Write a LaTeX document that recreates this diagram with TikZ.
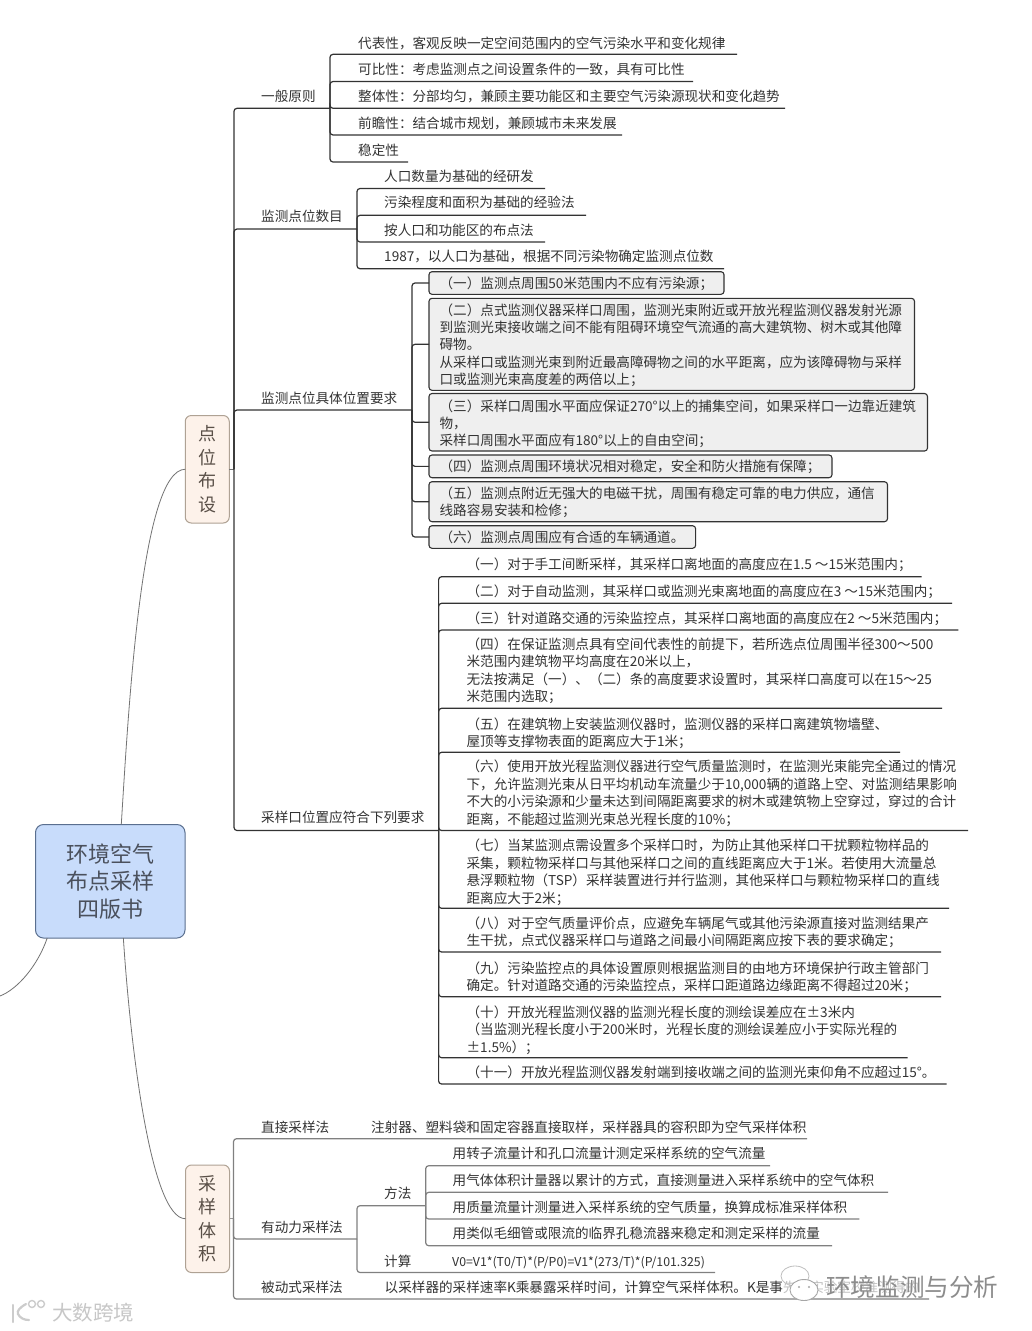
\documentclass[tikz,border=0pt]{standalone}
\usepackage{fontspec}
\setmainfont{Noto Sans CJK SC}
\definecolor{ink}{HTML}{333333}
\definecolor{rootfill}{HTML}{C8DCFB}
\definecolor{rootline}{HTML}{5A6F8F}
\definecolor{rootink}{HTML}{4A505C}
\definecolor{secfill}{HTML}{FDF2EA}
\definecolor{secline}{HTML}{AFA294}
\definecolor{secink}{HTML}{5A5048}
\definecolor{boxfill}{HTML}{EFEFEF}
\tikzset{
  txt/.style={anchor=base west,inner sep=0pt,text=ink,font=\fontsize{13.6}{17.4}\selectfont},
  lnk/.style={draw=#1,line width=1.2pt,rounded corners=3pt},
  lnk/.default={black!80},
  branch/.style={draw=black!55!white,line width=.8pt},
  rootnode/.style={draw=rootline,fill=rootfill,line width=1pt,rounded corners=8pt,
    text=rootink,align=center,inner sep=0pt,outer sep=0pt,
    minimum width=149.5pt,minimum height=113.5pt,font=\fontsize{22}{27.5}\selectfont},
  secnode/.style={draw=secline,fill=secfill,line width=1pt,rounded corners=6pt,
    text=secink,align=center,inner sep=0pt,outer sep=0pt,
    minimum width=44pt,minimum height=107.5pt,font=\fontsize{18}{23.4}\selectfont},
  gboxs/.style={draw=black!80,fill=boxfill,line width=1.1pt,rounded corners=3pt,
    anchor=north west,inner xsep=10.6pt,inner ysep=0pt,outer sep=0pt,text=ink,
    font=\fontsize{13.6}{17.4}\selectfont},
  wmtext/.style={anchor=base west,inner sep=0pt},
}
% parent, name, x, y centre, line end x, line y, text
\newcommand{\tp}[7]{%
  \node[txt] (#2) at (#3,#4+5.17) {#7};
  \coordinate (#2e) at (#5,#6);
  \draw[lnk] (#1) |- (#2e);}
\newcommand{\tpg}[7]{%
  \node[txt] (#2) at (#3,#4+5.17) {#7};
  \coordinate (#2e) at (#5,#6);
  \draw[lnk=black!50] (#1) |- (#2e);}
\newcommand{\ml}[1]{\begin{tabular}[t]{@{}l@{}}#1\end{tabular}}
% name,x0,y0,x1,y1,first line centre,text
\newcommand{\mybox}[7]{%
  \pgfmathsetlengthmacro\bw{#4-#2-21.2}%
  \pgfmathsetlengthmacro\bh{#6+5.17-#3}%
  \pgfmathsetlengthmacro\bd{#5-#6-5.17}%
  \node[gboxs,text height=\bh,text depth=\bd] (#1) at (#2,#3) {\makebox[\bw][l]{#7}};
  \draw[lnk] (b3) |- (#1.west);}
\begin{document}
\begin{tikzpicture}[x=1pt,y=-1pt]
\useasboundingbox (0,0) rectangle (1032,1331);
\fill[white] (0,0) rectangle (1032,1331);
% hub nodes
\node[rootnode] (main) at (110.25,881.25) {环境空气\\布点采样\\四版书};
\node[secnode] (sec1) at (207.25,469.25) {点\\位\\布\\设};
\node[secnode] (sec2) at (207.5,1218.75) {采\\样\\体\\积};
% curved branches
\coordinate (leftend) at (0,996);
\draw[branch] (main.79.3) .. controls (129,700) and (142,469.25) .. (sec1.west);
\draw[branch] (main.-77.3) .. controls (130,1040) and (150,1218.75) .. (sec2.west);
\draw[branch] (main.-138.3) .. controls (38,965) and (18,989) .. (leftend);
% trunks
\coordinate (p1) at (234,469.25);
\coordinate (p2) at (233.5,1218.75);
\draw[line width=1pt,draw=black!55!white] (sec1.east) -- (p1);
\draw[line width=1pt,draw=black!40!white] (sec2.east) -- (p2);
\coordinate (b1) at (330,108.3);
\coordinate (b2) at (357,229);
\coordinate (b3) at (412,410);
\coordinate (b4) at (438.6,830.5);
\coordinate (b5) at (357,1239);
\coordinate (b6) at (425.7,1205.7);
% section 1, level 2
\node[txt] (n1) at (261,96+5.17) {一般原则};
\draw[lnk] (p1) |- (b1);
\node[txt] (n2) at (261,216+5.17) {监测点位数目};
\draw[lnk] (p1) |- (b2);
\node[txt] (n3) at (261,398+5.17) {监测点位具体位置要求};
\draw[lnk] (p1) |- (b3);
\node[txt] (n4) at (261,817+5.17) {采样口位置应符合下列要求};
\draw[lnk] (p1) |- (b4);
% general principles
\tp{b1}{a1}{358}{43}{737}{54.3}{代表性，客观反映一定空间范围内的空气污染水平和变化规律}
\tp{b1}{a2}{358}{69}{693}{81.5}{可比性：考虑监测点之间设置条件的一致，具有可比性}
\tp{b1}{a3}{358}{96}{785}{108.3}{整体性：分部均匀，兼顾主要功能区和主要空气污染源现状和变化趋势}
\tp{b1}{a4}{358}{123}{622}{135}{前瞻性：结合城市规划，兼顾城市未来发展}
\tp{b1}{a5}{358}{150}{408}{162}{稳定性}
% number of points
\tp{b2}{c1}{384}{176}{545}{188.5}{人口数量为基础的经研发}
\tp{b2}{c2}{384}{202.5}{586}{215.3}{污染程度和面积为基础的经验法}
\tp{b2}{c3}{384}{230}{545}{242}{按人口和功能区的布点法}
\tp{b2}{c4}{384}{256.5}{724}{268.7}{1987，以人口为基础，根据不同污染物确定监测点位数}
% position boxes
\mybox{d1}{429}{271.7}{724}{294.3}{283.3}{（一）监测点周围50米范围内不应有污染源；}
\mybox{d2}{429}{298.3}{914.5}{390.3}{310}{\ml{（二）点式监测仪器采样口周围，监测光束附近或开放光程监测仪器发射光源\\到监测光束接收端之间不能有阻碍环境空气流通的高大建筑物、树木或其他障\\碍物。\\从采样口或监测光束到附近最高障碍物之间的水平距离，应为该障碍物与采样\\口或监测光束高度差的两倍以上；}}
\mybox{d3}{429}{393.5}{927.5}{451}{406}{\ml{（三）采样口周围水平面应保证270°以上的捕集空间，如果采样口一边靠近建筑\\物，\\采样口周围水平面应有180°以上的自由空间；}}
\mybox{d4}{429}{455}{832}{477.7}{466.5}{（四）监测点周围环境状况相对稳定，安全和防火措施有保障；}
\mybox{d5}{429}{481.7}{887.5}{521.7}{493.3}{\ml{（五）监测点附近无强大的电磁干扰，周围有稳定可靠的电力供应，通信\\线路容易安装和检修；}}
\mybox{d6}{429}{525.7}{695.6}{548.3}{537}{（六）监测点周围应有合适的车辆通道。}
% inlet requirements
\tp{b4}{e1}{466.4}{564.3}{921.6}{576.7}{（一）对于手工间断采样，其采样口离地面的高度应在1.5 ～15米范围内；}
\tp{b4}{e2}{466.4}{591.7}{952}{603.3}{（二）对于自动监测，其采样口或监测光束离地面的高度应在3 ～15米范围内；}
\tp{b4}{e3}{466.4}{618.3}{958.4}{630}{（三）针对道路交通的污染监控点，其采样口离地面的高度应在2 ～5米范围内；}
\tp{b4}{e4}{466.4}{644.3}{942}{708.3}{\ml{（四）在保证监测点具有空间代表性的前提下，若所选点位周围半径300～500\\米范围内建筑物平均高度在20米以上，\\无法按满足（一）、（二）条的高度要求设置时，其采样口高度可以在15～25\\米范围内选取；}}
\tp{b4}{e5}{466.4}{724}{900}{752.3}{\ml{（五）在建筑物上安装监测仪器时，监测仪器的采样口离建筑物墙壁、\\屋顶等支撑物表面的距离应大于1米；}}
\tp{b4}{e6}{466.4}{766.7}{968}{830.5}{\ml{（六）使用开放光程监测仪器进行空气质量监测时，在监测光束能完全通过的情况\\下，允许监测光束从日平均机动车流量少于10,000辆的道路上空、对监测结果影响\\不大的小污染源和少量未达到间隔距离要求的树木或建筑物上空穿过，穿过的合计\\距离，不能超过监测光束总光程长度的10\%；}}
\tp{b4}{e7}{466.4}{845.7}{949}{908.3}{\ml{（七）当某监测点需设置多个采样口时，为防止其他采样口干扰颗粒物样品的\\采集，颗粒物采样口与其他采样口之间的直线距离应大于1米。若使用大流量总\\悬浮颗粒物（TSP）采样装置进行并行监测，其他采样口与颗粒物采样口的直线\\距离应大于2米；}}
\tp{b4}{e8}{466.4}{923.3}{941}{952}{\ml{（八）对于空气质量评价点，应避免车辆尾气或其他污染源直接对监测结果产\\生干扰，点式仪器采样口与道路之间最小间隔距离应按下表的要求确定；}}
\tp{b4}{e9}{466.4}{968.3}{941}{996.7}{\ml{（九）污染监控点的具体设置原则根据监测目的由地方环境保护行政主管部门\\确定。针对道路交通的污染监控点，采样口距道路边缘距离不得超过20米；}}
\tp{b4}{e10}{466.4}{1012.3}{907.7}{1057.7}{\ml{（十）开放光程监测仪器的监测光程长度的测绘误差应在±3米内\\（当监测光程长度小于200米时，光程长度的测绘误差应小于实际光程的\\±1.5\%）；}}
\tp{b4}{e11}{466.4}{1072.3}{946.6}{1084}{（十一）开放光程监测仪器发射端到接收端之间的监测光束仰角不应超过15°。}
% sampling volume
\node[txt] (f1) at (261,1127+5.17) {直接采样法};
\tpg{p2}{f1a}{371}{1127}{807}{1138.7}{注射器、塑料袋和固定容器直接取样，采样器具的容积即为空气采样体积}
\node[txt] (f2) at (261,1227+5.17) {有动力采样法};
\draw[lnk=black!50] (p2) |- (b5);
\node[txt] (g1) at (384,1193+5.17) {方法};
\draw[lnk=black!50] (b5) |- (b6);
\tpg{b6}{h1}{452.5}{1153}{770}{1165.7}{用转子流量计和孔口流量计测定采样系统的空气流量}
\tpg{b6}{h2}{452.5}{1180}{888}{1192.3}{用气体体积计量器以累计的方式，直接测量进入采样系统中的空气体积}
\tpg{b6}{h3}{452.5}{1207}{859.3}{1219}{用质量流量计测量进入采样系统的空气质量，换算成标准采样体积}
\tpg{b6}{h4}{452.5}{1233}{832}{1245.7}{用类似毛细管或限流的临界孔稳流器来稳定和测定采样的流量}
\node[txt] (g2) at (384,1261+5.17) {计算};
\tpg{b5}{g2a}{452}{1261}{715}{1272.5}{\fontsize{12.3}{17.4}\selectfont V0=V1*(T0/T)*(P/P0)=V1*(273/T)*(P/101.325)}
\node[txt] (f3) at (261,1287+5.17) {被动式采样法};
\tpg{p2}{f3a}{384.5}{1287}{929}{1299}{以采样器的采样速率K乘暴露采样时间，计算空气采样体积。K是事\textcolor{black!45}{先在实验室校准测得的}}
% watermarks
\fill[white,opacity=.45] (784,1277) rectangle (930,1297);
\draw[black!25,line width=.8pt] (795,1276) ellipse [x radius=14,y radius=10];
\draw[black!35,fill=white,line width=.9pt] (804,1290) ellipse [x radius=14,y radius=10.5];
\fill[black!35] (799,1287) circle (1.1) (809,1287) circle (1.1);
\node[wmtext,text=black!45,font=\fontsize{24.6}{28}\selectfont] (wm1) at (826,1296.5) {环境监测与分析};
\draw[black!20,line width=2.2pt,line cap=round] (13,1305) -- (13,1322);
\draw[black!20,line width=2.2pt,line cap=round] (26,1304) .. controls (19,1308) and (17,1311) .. (18,1314) .. controls (20,1318) and (24,1320) .. (29,1320);
\draw[black!20,line width=1.4pt] (32,1304) circle (3.5) (41,1304) circle (3.5);
\node[wmtext,text=black!22,font=\fontsize{20.5}{24}\selectfont] (wm2) at (52,1320) {大数跨境};
\end{tikzpicture}
\end{document}
